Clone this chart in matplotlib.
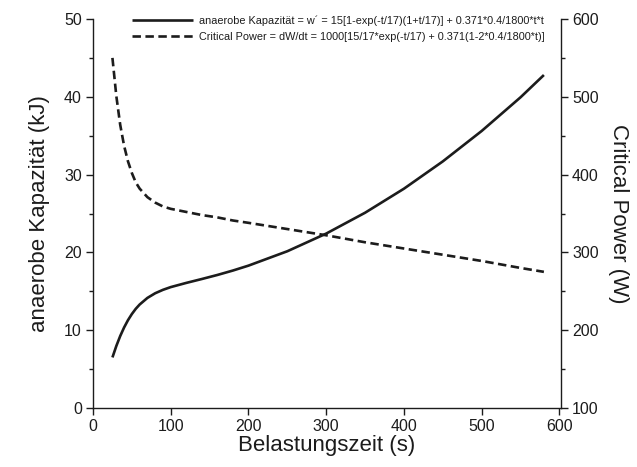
import matplotlib
matplotlib.use("Agg")
import matplotlib.pyplot as plt
from matplotlib.ticker import MultipleLocator

# data
t_s = [25, 30, 35, 40, 45, 50, 55, 60, 70, 80, 90, 100, 120, 140, 160, 180,
       200, 250, 300, 350, 400, 450, 500, 550, 580]
w_kj = [6.5, 7.97, 9.25, 10.35, 11.29, 12.08, 12.75, 13.30, 14.15, 14.75, 15.19,
        15.54, 16.08, 16.58, 17.10, 17.67, 18.30, 20.15, 22.42, 25.10, 28.19,
        31.70, 35.61, 39.94, 42.8]
cp_w = [550, 501, 464, 437, 417, 402, 390, 382, 371, 364, 359, 356, 352, 348,
        345, 341, 338, 330, 322, 313, 305, 297, 289, 280, 275]

label_w = "anaerobe Kapazität = w´ = 15[1-exp(-t/17)(1+t/17)] + 0.371*0.4/1800*t*t"
label_cp = "Critical Power = dW/dt = 1000[15/17*exp(-t/17) + 0.371(1-2*0.4/1800*t)]"

plt.rcParams['font.family'] = ['Liberation Sans', 'DejaVu Sans']
col = '#1c1c1c'

fig = plt.figure(figsize=(6.37, 4.67), dpi=100)
ax = fig.add_axes([93/637, 1-408/467, (561-93)/637, (408-19)/467])
ax2 = ax.twinx()

l1, = ax.plot(t_s, w_kj, color=col, lw=1.9, solid_capstyle='butt')
l2, = ax2.plot(t_s, cp_w, color=col, lw=1.9, linestyle=(0, (3.2, 1.7)))

ax.set_xlim(0, 602)
ax.set_ylim(0, 50)
ax2.set_ylim(100, 600)

for a in (ax, ax2):
    a.spines['top'].set_visible(False)
    for s in a.spines.values():
        s.set_linewidth(1.0)
        s.set_color(col)
ax.spines['right'].set_visible(False)
ax2.spines['left'].set_visible(False)
ax2.spines['bottom'].set_visible(False)

ax.xaxis.set_major_locator(MultipleLocator(100))
ax.yaxis.set_major_locator(MultipleLocator(10))
ax.yaxis.set_minor_locator(MultipleLocator(5))
ax2.yaxis.set_major_locator(MultipleLocator(100))
ax2.yaxis.set_minor_locator(MultipleLocator(50))

ax.tick_params(axis='both', which='major', direction='out', length=5, width=1,
               labelsize=11.5, colors=col, pad=3)
ax.tick_params(axis='y', which='minor', direction='out', length=3, width=1, colors=col)
ax2.tick_params(axis='y', which='major', direction='out', length=5, width=1,
                labelsize=11.5, colors=col, pad=3)
ax2.tick_params(axis='y', which='minor', direction='out', length=3, width=1, colors=col)

ax.set_xlabel("Belastungszeit (s)", fontsize=16, color=col, labelpad=1)
ax.set_ylabel("anaerobe Kapazität (kJ)", fontsize=16, color=col, labelpad=10)
ax2.set_ylabel("Critical Power (W)", fontsize=16, color=col, rotation=270,
               labelpad=22)

leg = ax2.legend([l1, l2], [label_w, label_cp], loc='upper left',
                 bbox_to_anchor=(132/637, 1-15/467), bbox_transform=fig.transFigure,
                 frameon=False, borderpad=0, borderaxespad=0, handlelength=5.6,
                 handletextpad=0.6, labelspacing=0.62,
                 prop={'family': ['Liberation Sans Narrow', 'Liberation Sans'], 'size': 7.8})
for txt in leg.get_texts():
    txt.set_color(col)

fig.savefig("out.png", dpi=100)
